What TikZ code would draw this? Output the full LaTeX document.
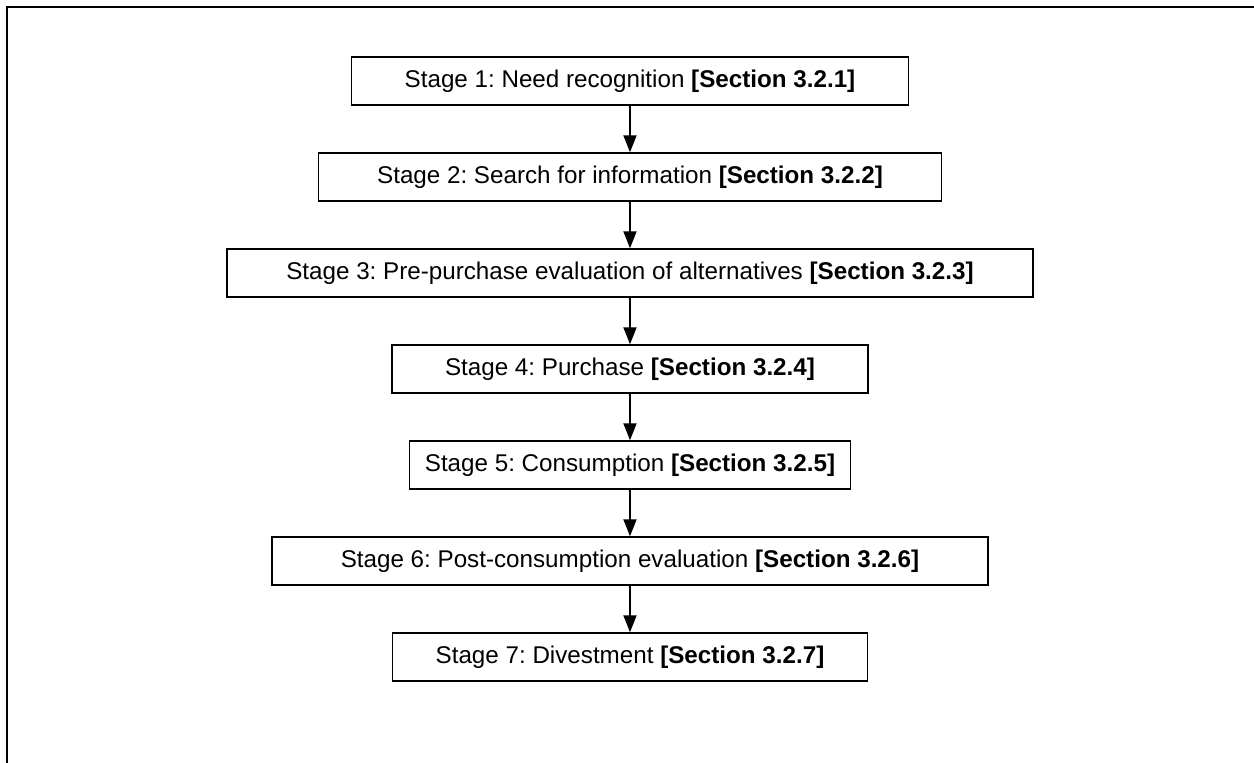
\documentclass[tikz,border=0pt]{standalone}
\usepackage{fontspec}
\setmainfont{Liberation Sans}
\usetikzlibrary{arrows.meta}
\frenchspacing
\begin{document}
\begin{tikzpicture}[x=1pt,y=-1pt,
  stagebox/.style={draw, line width=1.5pt, minimum height=48pt, inner sep=0pt,
    font=\fontsize{24.2}{29}\selectfont},
  flow/.style={-{Triangle[length=17pt,width=13pt]}, line width=2pt}]
\useasboundingbox (0,0) rectangle (1254,763);
% page frame
\draw[line width=2.5pt, line join=miter] (7,763) -- (7,7) -- (1254,7);
% stages of the decision process
\node[stagebox, minimum width=557pt] (s1) at (630,81)  {Stage 1: Need recognition \textbf{[Section 3.2.1]}};
\node[stagebox, minimum width=623pt] (s2) at (630,177) {Stage 2: Search for information \textbf{[Section 3.2.2]}};
\node[stagebox, minimum width=806pt] (s3) at (630,273) {Stage 3: Pre-purchase evaluation of alternatives \textbf{[Section 3.2.3]}};
\node[stagebox, minimum width=476pt] (s4) at (630,369) {Stage 4: Purchase \textbf{[Section 3.2.4]}};
\node[stagebox, minimum width=441pt] (s5) at (630,465) {Stage 5: Consumption \textbf{[Section 3.2.5]}};
\node[stagebox, minimum width=716pt] (s6) at (630,561) {Stage 6: Post-consumption evaluation \textbf{[Section 3.2.6]}};
\node[stagebox, minimum width=475pt] (s7) at (630,657) {Stage 7: Divestment \textbf{[Section 3.2.7]}};
% flow between stages
\foreach \a/\b in {s1/s2, s2/s3, s3/s4, s4/s5, s5/s6, s6/s7}
  \draw[flow] (\a) -- (\b);
\end{tikzpicture}
\end{document}
